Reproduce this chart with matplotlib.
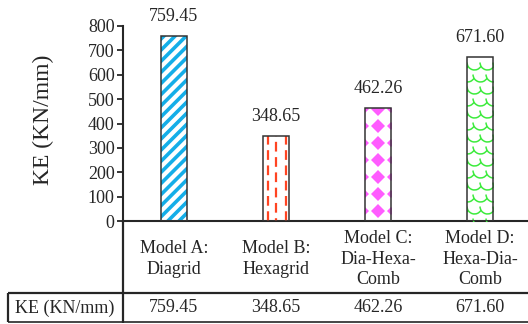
import numpy as np
import matplotlib
matplotlib.use("Agg")
import matplotlib.pyplot as plt
from matplotlib.lines import Line2D
from matplotlib.path import Path

plt.rcParams['font.family'] = ['Liberation Serif', 'DejaVu Serif']
plt.rcParams['hatch.linewidth'] = 2.6
plt.rcParams['lines.scale_dashes'] = False

categories = ["Model A:\nDiagrid", "Model B:\nHexagrid", "Model C:\nDia-Hexa-\nComb", "Model D:\nHexa-Dia-\nComb"]
values = [759.45, 348.65, 462.26, 671.60]
value_labels = ["759.45", "348.65", "462.26", "671.60"]
row_label = "KE (KN/mm)"
yticks = [0, 100, 200, 300, 400, 500, 600, 700, 800]

W, H = 528, 324
TXT = '#262626'
FS = 13

fig = plt.figure(figsize=(W / 100, H / 100), dpi=100)

def fx(x):
    return x / W

def fy(y):
    return 1 - y / H

ax_left, ax_top, ax_bot, ax_w = 123, 26, 221, 408
ax = fig.add_axes([fx(ax_left), fy(ax_bot), ax_w / W, (ax_bot - ax_top) / H])
ax.set_xlim(-0.5, 3.5)
ax.set_ylim(0, 800)
for s in ['top', 'right']:
    ax.spines[s].set_visible(False)
for s in ['left', 'bottom']:
    ax.spines[s].set_linewidth(1.5)
    ax.spines[s].set_color(TXT)
ax.set_xticks([])
ax.set_yticks(yticks)
ax.tick_params(axis='y', direction='out', length=4, width=1.3, color=TXT,
               labelsize=FS, labelcolor=TXT, pad=2)

x = np.arange(len(values))
bw = 0.25

# base fills
base = ax.bar(x, values, width=bw, color='white', linewidth=0, zorder=1)

# A: blue diagonal hatch
hb = ax.bar(x[0], values[0], width=bw, facecolor='white', edgecolor='#14AEE8',
            linewidth=0, hatch='///', zorder=2)

# pixel -> data conversions
dy = 800 / (ax_bot - ax_top)   # data per px (y)
dx = 4.0 / ax_w                # data per px (x)

# B: red dashed vertical lines
rB = base[1]
xb0, wb, hbB = rB.get_x(), rB.get_width(), rB.get_height()
for xi, off in [(xb0 + 5 * dx, 0), (xb0 + wb / 2, 5), (xb0 + wb - 3 * dx, 0)]:
    ln, = ax.plot([xi, xi], [0, hbB], color='#FF4422', lw=1.6,
                  linestyle=(off, (7, 4)), zorder=3, solid_capstyle='butt',
                  dash_capstyle='butt')
    ln.set_clip_path(rB)

# C: magenta diamonds
rC = base[2]
xc0, wc, hc = rC.get_x(), rC.get_width(), rC.get_height()
ys = np.arange(hc - 1 * dy, 0, -17 * dy)
ln, = ax.plot(np.full_like(ys, xc0 + wc / 2), ys, linestyle='none', marker='D',
              markersize=7, color='#FF5CFF', markeredgewidth=0, zorder=3)
ln.set_clip_path(rC)
for xe in [xc0, xc0 + wc]:
    ln, = ax.plot(np.full_like(ys, xe), ys, linestyle='none', marker='D',
                  markersize=4.5, color='#FF5CFF', markeredgewidth=0, zorder=3)
    ln.set_clip_path(rC)

# D: green scale pattern
rD = base[3]
xd0, wd, hd = rD.get_x(), rD.get_width(), rD.get_height()
arc = Path.arc(180, 330)
rows = np.arange(hd - 5 * dy, -10 * dy, -12 * dy)
for i, yr in enumerate(rows):
    shift = 0 if i % 2 == 0 else 6.5 * dx
    xs = np.arange(xd0 - 6.5 * dx + shift, xd0 + wd + 8 * dx, 13 * dx)
    ln, = ax.plot(xs, np.full_like(xs, yr), linestyle='none', marker=arc,
                  markersize=11, markerfacecolor='none', markeredgecolor='#3DEB3D',
                  markeredgewidth=1.1, zorder=3)
    ln.set_clip_path(rD)

# outlines
ax.bar(x, values, width=bw, fill=False, edgecolor='#333333', linewidth=1.1, zorder=4)

# value labels
for xi, v, lab in zip(x, values, value_labels):
    ax.annotate(lab, (xi, v), xytext=(0, 14), textcoords='offset points',
                ha='center', va='center', fontsize=FS, color=TXT, annotation_clip=False)

# y label
fig.text(fx(43), fy(120), "KE (KN/mm)", rotation=90, ha='center', va='center',
         fontsize=17, color=TXT)

# table
def fline(x0, y0, x1, y1, lw):
    fig.add_artist(Line2D([fx(x0), fx(x1)], [fy(y0), fy(y1)], transform=fig.transFigure,
                          color=TXT, lw=lw, solid_capstyle='butt'))

fline(123, 221, 123, 323, 1.6)
fline(8, 293, 528, 293, 1.6)
fline(8, 322, 528, 322, 1.2)
fline(8, 293, 8, 322, 1.6)

cx = [ax_left + (i + 0.5) * ax_w / 4 for i in range(len(values))]
for c, cat, lab in zip(cx, categories, value_labels):
    fig.text(fx(c), fy(259), cat, ha='center', va='center', fontsize=FS,
             color=TXT, linespacing=1.25)
    fig.text(fx(c), fy(308), lab, ha='center', va='center', fontsize=FS, color=TXT)
fig.text(fx(65), fy(308), row_label, ha='center', va='center', fontsize=FS, color=TXT)

fig.savefig("out.png", dpi=100)
